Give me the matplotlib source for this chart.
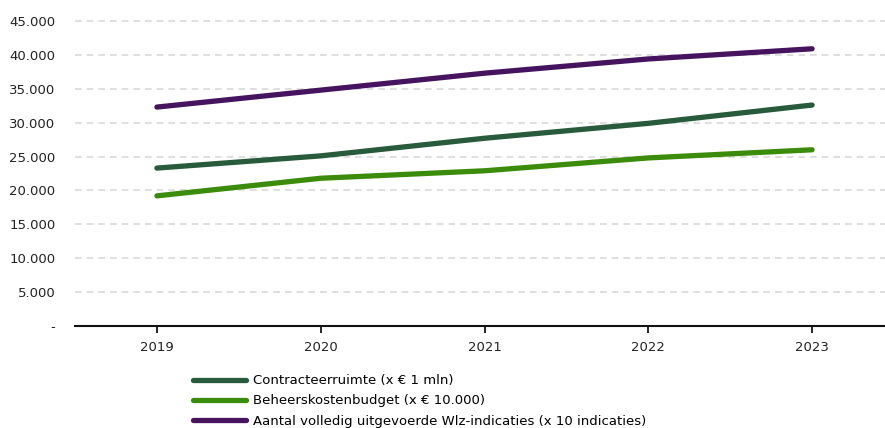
import matplotlib.pyplot as plt
from matplotlib.ticker import FuncFormatter

years = [2019, 2020, 2021, 2022, 2023]
contracteerruimte = [23300, 25100, 27700, 29900, 32600]
beheerskosten = [19200, 21800, 22900, 24800, 26000]
indicaties = [32300, 34800, 37300, 39400, 40900]

labels = ["Contracteerruimte (x \u20ac 1 mln)",
          "Beheerskostenbudget (x \u20ac 10.000)",
          "Aantal volledig uitgevoerde Wlz-indicaties (x 10 indicaties)"]
colors = ["#285a3c", "#3c8c0c", "#46145f"]

plt.rcParams['font.family'] = ['DejaVu Sans']

fig = plt.figure(figsize=(8.85, 4.28), dpi=100)
ax = fig.add_axes([75/885, 1 - 326/428, (894 - 75)/885, (326 - 21)/428])

x = list(range(len(years)))
for vals, lab, col in zip([contracteerruimte, beheerskosten, indicaties], labels, colors):
    ax.plot(x, vals, color=col, lw=3.8, solid_capstyle='round', label=lab, zorder=3)

ax.set_xlim(-0.5, len(years) - 0.5)
ax.set_ylim(0, 45000)
ax.set_xticks(x)
ax.set_xticklabels([str(y) for y in years])
ax.set_yticks(range(0, 45001, 5000))

def fmt(v, pos):
    if v == 0:
        return "-"
    return f"{int(v):,}".replace(",", ".")

ax.yaxis.set_major_formatter(FuncFormatter(fmt))

ax.grid(axis='y', color='#d9d9d9', linestyle=(0, (4, 3)), lw=1.2, clip_on=False)
ax.set_axisbelow(True)
for s in ['top', 'right', 'left']:
    ax.spines[s].set_visible(False)
ax.spines['bottom'].set_linewidth(1.5)
ax.spines['bottom'].set_color('#111111')
ax.tick_params(axis='y', length=0, pad=14, labelsize=9.5, labelcolor='#222222')
ax.tick_params(axis='x', length=5, width=1.2, direction='out', pad=6,
               labelsize=9.5, labelcolor='#222222')

leg = fig.legend(loc='upper left', bbox_to_anchor=(188/885, 1 - 369/428), frameon=False,
                 fontsize=9.5, handlelength=4.0, handletextpad=0.5,
                 labelspacing=0.54, borderaxespad=0)

fig.savefig("out.png", dpi=100)
